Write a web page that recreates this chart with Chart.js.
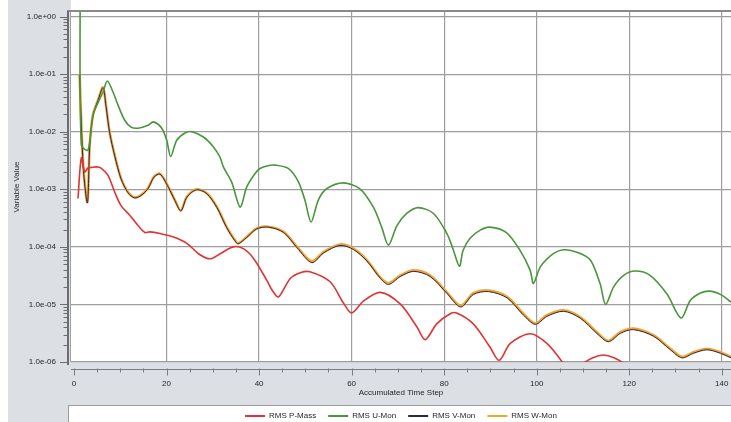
<!DOCTYPE html>
<html>
<head>
<meta charset="utf-8">
<title>RMS residuals</title>
<script src="https://cdn.jsdelivr.net/npm/chart.js@4.4.1/dist/chart.umd.min.js"></script>
<style>
  html, body { margin: 0; padding: 0; background: #ffffff; overflow: hidden; }
  canvas { display: block; }
</style>
</head>
<body>
<canvas id="residuals" width="731" height="430"></canvas>
<script>
// ---- data -------------------------------------------------------------
const seriesNames = ['RMS P-Mass', 'RMS U-Mon', 'RMS V-Mon', 'RMS W-Mon'];
const seriesColors = ['#e03434', '#4a963c', '#26265a', '#f3a42e'];

const xTickValues = [0, 20, 40, 60, 80, 100, 120, 140];
const yTickValues = [1e-6, 1e-5, 1e-4, 1e-3, 1e-2, 1e-1, 1e0];

const pMassSteps = [0.86, 1.58, 2.31, 3.03, 3.9, 4.82, 5.84, 7.35, 8.8, 10.16, 12.04, 13.84, 15.3, 16.4, 18.6,
  21.5, 24.4, 26.9, 29.4, 31.6, 34.4, 36.6, 38.8, 41.7, 42.8, 44.2, 46.7, 48.9, 51.0, 55.4, 58.2, 60.0, 62.6,
  66.2, 70.5, 74.1, 75.9, 78.4, 81.3, 82.7, 86.3, 89.9, 91.9, 94.3, 98.6, 102.2, 105.8, 107.9, 110.1, 114.4,
  118.8, 121.3];
const pMassValues = [6.9e-4, 3.5e-3, 2.0e-3, 2.34e-3, 2.4e-3, 2.45e-3, 2.34e-3, 1.74e-3, 8.9e-4, 5.2e-4, 3.55e-4,
  2.34e-4, 1.78e-4, 1.82e-4, 1.7e-4, 1.48e-4, 1.15e-4, 7.6e-5, 6.2e-5, 7.6e-5, 1.0e-4, 9.3e-5, 6.3e-5, 2.6e-5,
  1.78e-5, 1.35e-5, 2.8e-5, 3.55e-5, 3.7e-5, 2.45e-5, 1.07e-5, 7.1e-6, 1.15e-5, 1.62e-5, 1.02e-5, 4.1e-6,
  2.45e-6, 4.6e-6, 6.9e-6, 7.1e-6, 4.6e-6, 1.82e-6, 1.07e-6, 2.1e-6, 3.1e-6, 2.1e-6, 9.3e-7, 4.8e-7, 9.5e-7,
  1.32e-6, 9.5e-7, 4.8e-7];

const uMonSteps = [1.3, 1.58, 3.03, 4.11, 5.19, 6.27, 7.2, 8.43, 9.51, 10.96, 12.32, 13.84, 16.0, 17.15, 18.96,
  20.04, 20.9, 22.2, 24.0, 25.45, 27.96, 30.1, 31.57, 32.28, 34.1, 35.9, 37.34, 39.1, 40.2, 41.9, 43.46, 46.3,
  48.5, 49.9, 51.24, 52.8, 54.6, 58.2, 61.8, 64.7, 66.5, 67.96, 69.8, 71.9, 74.4, 77.7, 80.6, 81.9, 83.3, 84.1,
  85.6, 87.8, 89.9, 93.4, 96.4, 98.6, 99.3, 100.8, 103.6, 105.8, 109.0, 111.6, 113.7, 114.9, 116.6, 118.8,
  121.3, 124.5, 128.2, 131.2, 133.2, 135.4, 137.5, 140.0, 142.0];
const uMonValues = [3.0, 5.9e-3, 4.8e-3, 1.95e-2, 3.2e-2, 4.9e-2, 7.6e-2, 4.9e-2, 2.9e-2, 1.58e-2, 1.2e-2,
  1.15e-2, 1.29e-2, 1.48e-2, 1.15e-2, 7.1e-3, 3.7e-3, 7.1e-3, 9.5e-3, 1.0e-2, 8.1e-3, 5.5e-3, 3.6e-3, 2.45e-3,
  1.32e-3, 4.9e-4, 1.1e-3, 1.86e-3, 2.3e-3, 2.57e-3, 2.63e-3, 2.3e-3, 1.35e-3, 6.5e-4, 2.7e-4, 6.5e-4, 1.02e-3,
  1.29e-3, 1.02e-3, 4.9e-4, 2.2e-4, 1.07e-4, 2.34e-4, 3.8e-4, 4.8e-4, 3.8e-4, 1.7e-4, 9.3e-5, 4.6e-5, 8.7e-5,
  1.41e-4, 1.95e-4, 2.2e-4, 1.78e-4, 8.7e-5, 3.9e-5, 2.3e-5, 4.5e-5, 7.6e-5, 8.9e-5, 7.9e-5, 5.9e-5, 2.3e-5,
  1.0e-5, 2.0e-5, 3.2e-5, 3.8e-5, 3.2e-5, 1.5e-5, 5.8e-6, 1.17e-5, 1.58e-5, 1.7e-5, 1.45e-5, 1.1e-5];

// V-Mon and W-Mon are logged at the same steps
const vwSteps = [1.2, 2.0, 2.9, 3.4, 4.1, 5.19, 6.27, 6.9, 7.7, 8.8, 10.16, 11.68, 13.1, 14.5, 16.0, 17.3, 18.6,
  20.4, 21.8, 23.1, 24.4, 26.5, 28.7, 30.9, 33.0, 34.8, 35.5, 37.3, 39.5, 42.0, 45.3, 48.2, 51.4, 53.9, 57.5,
  60.4, 63.3, 66.2, 68.0, 70.5, 73.4, 77.0, 80.6, 83.6, 86.3, 89.6, 93.6, 97.1, 99.7, 102.2, 105.8, 109.4,
  113.0, 115.5, 118.1, 120.9, 125.3, 128.9, 131.4, 133.9, 136.8, 139.7, 142.0];
const vMonValues = [9.5e-2, 2.4e-3, 5.8e-4, 5.7e-3, 1.9e-2, 3.5e-2, 5.8e-2, 2.85e-2, 9.6e-3, 3.8e-3, 1.52e-3,
  8.7e-4, 7.1e-4, 7.8e-4, 1.03e-3, 1.63e-3, 1.83e-3, 1.08e-3, 6.4e-4, 4.2e-4, 7.3e-4, 9.8e-4, 8.4e-4, 4.8e-4,
  2.15e-4, 1.27e-4, 1.13e-4, 1.45e-4, 2.05e-4, 2.2e-4, 1.78e-4, 9.7e-5, 5.3e-5, 7.8e-5, 1.06e-4, 9.0e-5, 5.7e-5,
  2.85e-5, 2.22e-5, 3.05e-5, 3.75e-5, 3.05e-5, 1.56e-5, 9.0e-6, 1.49e-5, 1.67e-5, 1.3e-5, 6.6e-6, 4.5e-6,
  6.2e-6, 7.6e-6, 5.8e-6, 3.15e-6, 2.25e-6, 3.15e-6, 3.65e-6, 2.8e-6, 1.63e-6, 1.18e-6, 1.42e-6, 1.63e-6,
  1.42e-6, 1.18e-6];
const wMonValues = [1.0e-1, 2.5e-3, 6.0e-4, 5.9e-3, 1.95e-2, 3.55e-2, 5.9e-2, 2.9e-2, 9.8e-3, 3.9e-3, 1.55e-3,
  8.9e-4, 7.2e-4, 7.9e-4, 1.05e-3, 1.66e-3, 1.86e-3, 1.1e-3, 6.5e-4, 4.3e-4, 7.4e-4, 1.0e-3, 8.5e-4, 4.9e-4,
  2.2e-4, 1.3e-4, 1.15e-4, 1.48e-4, 2.1e-4, 2.24e-4, 1.82e-4, 1.0e-4, 5.6e-5, 8.1e-5, 1.1e-4, 9.3e-5, 5.9e-5,
  2.95e-5, 2.34e-5, 3.16e-5, 3.9e-5, 3.16e-5, 1.62e-5, 9.5e-6, 1.55e-5, 1.74e-5, 1.35e-5, 6.9e-6, 4.7e-6,
  6.5e-6, 7.9e-6, 6.0e-6, 3.3e-6, 2.34e-6, 3.3e-6, 3.8e-6, 2.9e-6, 1.7e-6, 1.23e-6, 1.48e-6, 1.7e-6, 1.48e-6,
  1.23e-6];

// ---- helpers ----------------------------------------------------------
const FONT = "'Liberation Sans', Arial, sans-serif";
const TEXT = '#262626';
const GRID = '#9e9e9e';
const PANEL = '#dcdfe3';

const toPoints = (xs, ys) => xs.map((x, i) => ({ x, y: ys[i] }));

function expLabel(v) {
  const e = Math.round(Math.log10(v));
  const sign = e < 0 ? '-' : '+';
  return '1.0e' + sign + String(Math.abs(e)).padStart(2, '0');
}

function series(i, xs, ys, width) {
  return {
    label: seriesNames[i],
    data: toPoints(xs, ys),
    borderColor: seriesColors[i],
    backgroundColor: seriesColors[i],
    borderWidth: width,
    pointRadius: 0,
    pointHoverRadius: 0,
    fill: false,
    tension: 0.3
  };
}

// Grey panels, legend box, axis rulers with minor ticks and the frame lines
const framePlugin = {
  id: 'frame',
  beforeDraw(chart) {
    const { ctx, width, height, chartArea: a } = chart;
    ctx.save();
    ctx.fillStyle = '#ffffff';
    ctx.fillRect(0, 0, width, height);
    ctx.fillStyle = PANEL;
    ctx.fillRect(8, 0, a.left - 8, height);
    ctx.fillRect(8, a.bottom, width - 8, height - a.bottom);
    const top = chart.legend.top + 5;
    ctx.fillStyle = '#ffffff';
    ctx.fillRect(68, top, width - 68, height - top);
    ctx.strokeStyle = '#9c9c9c';
    ctx.lineWidth = 1;
    ctx.strokeRect(68.5, top + 0.5, width, height);
    ctx.restore();
  },
  afterDraw(chart) {
    const { ctx, width, chartArea: a } = chart;
    const xs = chart.scales.x, ys = chart.scales.y;
    ctx.save();
    // plot frame: top edge and left edge
    ctx.strokeStyle = '#8a8a8a';
    ctx.lineWidth = 2;
    ctx.beginPath();
    ctx.moveTo(67, a.top - 1);
    ctx.lineTo(width, a.top - 1);
    ctx.stroke();
    ctx.strokeStyle = '#a0a0a0';
    ctx.lineWidth = 1;
    ctx.beginPath();
    ctx.moveTo(a.left - 0.5, a.top);
    ctx.lineTo(a.left - 0.5, a.bottom);
    ctx.stroke();

    // vertical ruler with decade and sub-decade ticks
    ctx.strokeStyle = '#6c6c6c';
    ctx.lineWidth = 2;
    ctx.beginPath();
    ctx.moveTo(68, a.top - 1);
    ctx.lineTo(68, a.bottom + 3);
    ctx.stroke();
    ctx.lineWidth = 1;
    ctx.beginPath();
    for (let e = -6; e <= 0; e++) {
      for (let m = 1; m <= 9; m++) {
        const v = m * Math.pow(10, e);
        if (v < ys.min || v > ys.max) continue;
        const py = Math.round(ys.getPixelForValue(v)) + 0.5;
        const len = m === 1 ? 7 : 3.5;
        ctx.moveTo(67 - len, py);
        ctx.lineTo(67, py);
      }
    }
    ctx.stroke();

    // horizontal ruler below the plot
    const ry = a.bottom + 7.5;
    ctx.strokeStyle = '#7c7c7c';
    ctx.beginPath();
    ctx.moveTo(a.left, ry);
    ctx.lineTo(width, ry);
    for (let s = 0; s <= 140; s += 5) {
      const px = Math.round(xs.getPixelForValue(s)) + 0.5;
      const len = s % 20 === 0 ? 6 : 3;
      ctx.moveTo(px, ry - 1);
      ctx.lineTo(px, ry + len);
    }
    ctx.stroke();
    ctx.restore();
  }
};

// ---- chart ------------------------------------------------------------
Chart.defaults.font.family = FONT;
Chart.defaults.color = TEXT;

new Chart(document.getElementById('residuals'), {
  type: 'line',
  data: {
    datasets: [
      series(0, pMassSteps, pMassValues, 1.6),
      series(1, uMonSteps, uMonValues, 1.6),
      series(2, vwSteps, vMonValues, 1.0),
      series(3, vwSteps, wMonValues, 2.6)
    ]
  },
  options: {
    responsive: false,
    animation: false,
    events: [],
    layout: { padding: { top: 12, left: 0, right: 0, bottom: 0 } },
    plugins: {
      tooltip: { enabled: false },
      legend: {
        position: 'bottom',
        fullSize: false,
        labels: {
          boxWidth: 20,
          boxHeight: 2,
          padding: 12,
          color: TEXT,
          font: { family: FONT, size: 8 },
          generateLabels(chart) {
            return Chart.defaults.plugins.legend.labels.generateLabels(chart).map(item => {
              item.fillStyle = seriesColors[item.datasetIndex];
              item.lineWidth = 0;
              return item;
            });
          }
        }
      }
    },
    scales: {
      x: {
        type: 'linear',
        min: -0.65,
        max: 142,
        afterBuildTicks(scale) {
          scale.ticks = xTickValues.map(v => ({ value: v }));
        },
        afterFit(scale) {
          scale.height = 38;
          scale.paddingLeft = 0;
          scale.paddingRight = 0;
        },
        border: { display: false },
        grid: {
          drawTicks: false,
          lineWidth: 1.2,
          color: c => (c.tick && c.tick.value === 0 ? 'rgba(0,0,0,0)' : GRID)
        },
        ticks: {
          padding: 17,
          maxRotation: 0,
          autoSkip: false,
          color: TEXT,
          font: { family: FONT, size: 8 },
          callback: v => String(v)
        },
        title: {
          display: true,
          text: 'Accumulated Time Step',
          color: TEXT,
          font: { family: FONT, size: 8 },
          padding: { top: 0, bottom: 2 }
        }
      },
      y: {
        type: 'logarithmic',
        min: 1e-6,
        max: 1.2,
        afterBuildTicks(scale) {
          scale.ticks = yTickValues.map(v => ({ value: v }));
        },
        afterFit(scale) {
          scale.width = 71;
          scale.paddingTop = 0;
          scale.paddingBottom = 0;
        },
        border: { display: false },
        grid: { drawTicks: false, lineWidth: 1.2, color: GRID },
        ticks: {
          padding: 15,
          autoSkip: false,
          color: TEXT,
          font: { family: FONT, size: 8 },
          callback: v => expLabel(v)
        },
        title: {
          display: true,
          text: 'Variable Value',
          color: TEXT,
          font: { family: FONT, size: 8 },
          padding: { top: 12, bottom: 0 }
        }
      }
    }
  },
  plugins: [framePlugin]
});
</script>
</body>
</html>
